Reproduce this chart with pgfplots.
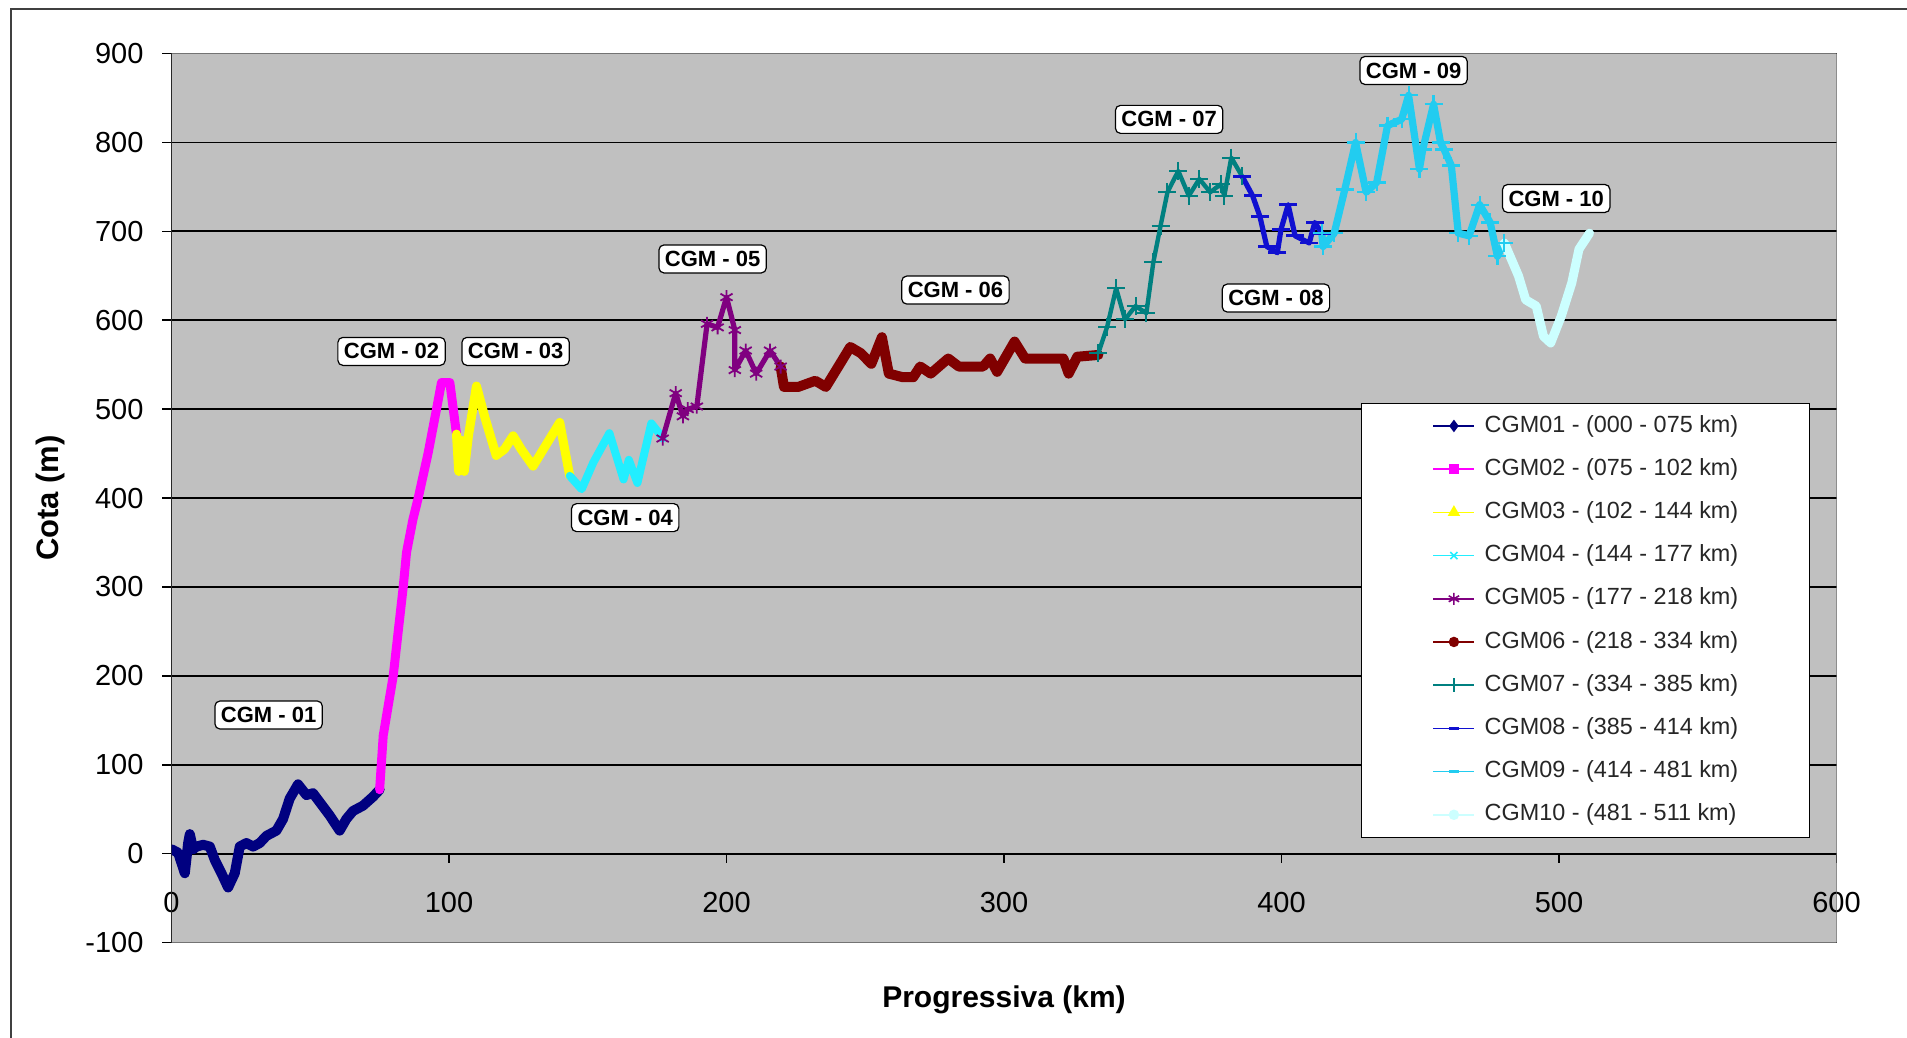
\documentclass[border=0pt]{standalone}
\usepackage{pgfplots}
\pgfplotsset{compat=1.18}
\usepackage{fontspec}
\setmainfont{Liberation Sans}
\definecolor{bgGray}{HTML}{C0C0C0}
\definecolor{cNavy}{HTML}{000080}
\definecolor{cMag}{HTML}{FF00FF}
\definecolor{cYel}{HTML}{FFFF00}
\definecolor{cCyan}{HTML}{22EEFF}
\definecolor{cPurp}{HTML}{800080}
\definecolor{cRed}{HTML}{800000}
\definecolor{cTeal}{HTML}{008080}
\definecolor{cBlue}{HTML}{1010D0}
\definecolor{cSky}{HTML}{22CCF0}
\definecolor{cPale}{HTML}{CCFFFF}
\tikzset{cgm/.style={draw=black, line width=0.6pt, fill=white, rounded corners=2.5pt, minimum width=52pt, minimum height=14pt, inner xsep=3pt, inner ysep=1pt, font=\fontsize{11}{13}\selectfont\bfseries}}
\begin{document}
\begin{tikzpicture}
\path[use as bounding box] (0,0) rectangle (953.5pt,519pt);
\draw[line width=0.8pt, black!75] (5.5pt,0pt) -- (5.5pt,514.5pt) -- (953.5pt,514.5pt);
\begin{axis}[
  at={(85.75pt,47.7pt)}, anchor=south west,
  scale only axis, width=832.5pt, height=444.5pt,
  xmin=0, xmax=600, ymin=-100, ymax=900,
  axis x line=middle, axis y line=left,
  axis line style={-, line width=0.9pt, black},
  every inner x axis line/.append style={-},
  hide obscured x ticks=false, hide obscured y ticks=false,
  xtick={0,100,...,600}, ytick={-100,0,...,900},
  tick align=outside, major tick length=4.5pt,
  tick style={black, line width=0.8pt},
  ymajorgrids, grid style={black, line width=0.9pt},
  axis background/.style={fill=bgGray},
  tick label style={font=\fontsize{14.5}{17}\selectfont},
  /pgf/number format/assume math mode=true,
  xticklabel style={anchor=north, yshift=-11pt},
  yticklabel style={anchor=east, xshift=-6pt},
  xlabel={Progressiva (km)}, ylabel={Cota (m)},
  xlabel style={at={(axis description cs:0.5,-0.0641)}, anchor=center, font=\fontsize{15}{18}\selectfont\bfseries},
  ylabel style={at={(axis description cs:-0.0724,0.5)}, anchor=center, font=\fontsize{15.5}{18}\selectfont\bfseries},
  legend style={at={(axis cs:428.6,507.4)}, anchor=north west, draw=black, line width=0.75pt, fill=white,
    inner xsep=35.5pt, inner ysep=5.75pt, row sep=10.5pt, column sep=4.75pt,
    font=\fontsize{11.7}{14}\selectfont, text=black!85,
    nodes={inner sep=0pt, text height=8.6pt, text depth=2.5pt}, cells={anchor=west}},
  legend cell align=left,
  legend image code/.code={\draw[mark repeat=2,mark phase=2,#1] plot coordinates {(0pt,0pt) (10.25pt,0pt) (20.5pt,0pt)};},
]
\draw[black!55, line width=0.8pt] (rel axis cs:0,0) rectangle (rel axis cs:1,1);
% CGM01
\addplot[cNavy, line width=5pt, line join=round, line cap=round, forget plot] coordinates {
(0,5) (2.4,1) (4.8,-22) (6,12) (6.6,22) (7.8,5) (9,8) (11.4,10) (13.8,8) (15.6,-7) (18,-22) (20.4,-38) (22.8,-22) (24.6,8) (27,12) (29.4,8) (31.8,12) (34.2,20) (37.8,26) (40.2,39) (42.6,62) (45.6,78) (48.6,66) (51,68) (53.4,58) (57,43) (60.6,26) (63,39) (65.4,48) (69,54) (72.6,64) (75,72)};
% CGM02
\addplot[cMag, line width=4.5pt, line join=round, line cap=round, forget plot] coordinates {
(75,72) (76.3,133) (79.9,200) (83.5,300) (84.7,339) (87,376) (88.9,400) (92.5,451) (95.5,500) (97.3,530) (100.3,530) (102.7,472)};
% CGM03
\addplot[cYel, line width=4.5pt, line join=round, line cap=round, forget plot] coordinates {
(102.7,472) (103.5,430) (104.5,465) (105.5,430) (107,470) (109.9,526) (113,490) (117,448) (120,455) (123.1,470) (126,455) (130.3,436) (135,460) (139.9,485) (143.5,425)};
% CGM04
\addplot[cCyan, line width=4pt, line join=round, line cap=round, forget plot] coordinates {
(143.5,425) (147.8,410) (152,440) (157.8,473) (162.9,421) (164.8,443) (167.9,417) (172.9,484) (176.7,469) (177,467)};
% CGM05
\addplot[cPurp, line width=2.6pt, line join=round, mark=asterisk, mark size=3.5pt, mark options={line width=0.9pt}, forget plot] coordinates {
(177,467) (181.7,518) (184.3,492) (186,500) (189.3,503) (193,596) (196.8,592) (200,626) (203,589) (203,544) (206.9,566) (210.7,540) (215.7,566) (219.5,548)};
% CGM06
\addplot[cRed, line width=5pt, line join=round, line cap=round, forget plot] coordinates {
(219.5,548) (220.7,525) (225.8,525) (232,532) (235.8,525) (240.9,551) (244.6,570) (248.4,563) (252.2,551) (256,581) (258.5,540) (263.5,536) (267.3,536) (269.8,548) (273.6,540) (279.9,557) (283.7,548) (292.5,548) (295,557) (297.5,542) (303.8,576) (307.6,557) (321.4,557) (323.3,540) (326.4,559) (334,561)};
% CGM07
\addplot[cTeal, line width=2.2pt, line join=round, mark=+, mark size=4.5pt, mark options={line width=1pt}, forget plot] coordinates {
(334,563) (337.2,593) (340.4,636) (343.6,601) (347.4,616) (351.3,608) (353.8,665) (356.4,706) (358.9,744) (362.8,768) (366.6,740) (370.4,759) (374.3,744) (378.1,753) (379.4,740) (381.9,783) (385.8,762)};
% CGM08
\addplot[cBlue, line width=2.6pt, line join=round, mark=-, mark size=4.5pt, mark options={line width=1.4pt}, forget plot] coordinates {
(385.8,762) (389.6,740) (392.2,717) (394.7,683) (398.5,676) (399.8,702) (402.4,730) (404.9,695) (410,687) (412,710) (414.5,698)};
% CGM09
\addplot[cSky, line width=3.6pt, line join=round, mark=+, mark size=4.5pt, mark options={line width=1.1pt}, forget plot] coordinates {
(414.5,698) (415,683) (419,698) (422.8,747) (426.7,800) (430.5,744) (434.3,755) (438.2,819) (443.3,826) (445.8,853) (449.7,770) (450.9,792) (454.8,843) (457.3,800) (458.6,792) (461.2,774) (463.7,698) (467.6,695) (471.4,730) (475.2,710) (477.8,672) (480.3,687)};
% CGM10
\addplot[cPale, line width=4.5pt, line join=round, line cap=round, forget plot] coordinates {
(480.3,687) (485.4,650) (488,623) (491.8,616) (494.4,582) (497,574.5) (500.8,604.5) (504.6,642) (507.2,680) (511,698)};
% labels
\node[cgm] at (axis cs:35,156) {CGM - 01};
\node[cgm] at (axis cs:79.3,565) {CGM - 02};
\node[cgm] at (axis cs:124,565) {CGM - 03};
\node[cgm] at (axis cs:163.5,378) {CGM - 04};
\node[cgm] at (axis cs:195,669) {CGM - 05};
\node[cgm] at (axis cs:282.5,634) {CGM - 06};
\node[cgm] at (axis cs:359.5,826) {CGM - 07};
\node[cgm] at (axis cs:398,625) {CGM - 08};
\node[cgm] at (axis cs:447.6,881) {CGM - 09};
\node[cgm] at (axis cs:499,737) {CGM - 10};
% legend
\addlegendimage{cNavy, line width=0.8pt, mark=diamond*, mark size=2.5pt}
\addlegendentry{CGM01 - (000 - 075 km)}
\addlegendimage{cMag, line width=0.8pt, mark=square*, mark size=2.2pt}
\addlegendentry{CGM02 - (075 - 102 km)}
\addlegendimage{cYel, line width=0.8pt, mark=triangle*, mark size=2.8pt}
\addlegendentry{CGM03 - (102 - 144 km)}
\addlegendimage{cCyan, line width=0.8pt, mark=x, mark size=2.5pt}
\addlegendentry{CGM04 - (144 - 177 km)}
\addlegendimage{cPurp, line width=0.8pt, mark=asterisk, mark size=3pt}
\addlegendentry{CGM05 - (177 - 218 km)}
\addlegendimage{cRed, line width=0.8pt, mark=*, mark size=2.2pt}
\addlegendentry{CGM06 - (218 - 334 km)}
\addlegendimage{cTeal, line width=0.8pt, mark=+, mark size=3.5pt}
\addlegendentry{CGM07 - (334 - 385 km)}
\addlegendimage{cBlue, line width=0.8pt, mark=-, mark size=2.5pt, mark options={line width=1.5pt}}
\addlegendentry{CGM08 - (385 - 414 km)}
\addlegendimage{cSky, line width=0.8pt, mark=-, mark size=2.5pt, mark options={line width=1.5pt}}
\addlegendentry{CGM09 - (414 - 481 km)}
\addlegendimage{cPale, line width=0.8pt, mark=*, mark size=2.2pt}
\addlegendentry{CGM10 - (481 - 511 km)}
\end{axis}
\end{tikzpicture}
\end{document}
